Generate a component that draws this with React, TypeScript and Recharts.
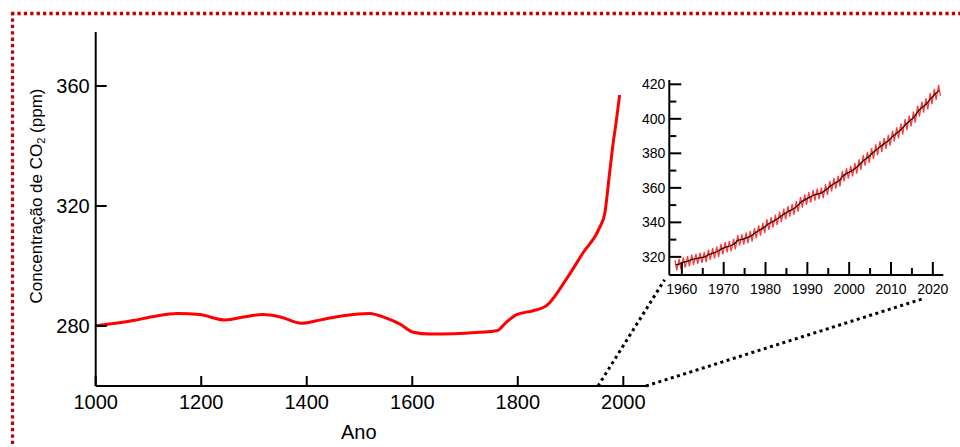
import React from 'react';
import { LineChart, Line, XAxis, YAxis, ReferenceLine } from 'recharts';

// Ice-core CO2 record (smoothed), year -> ppm
const iceYears = [1000, 1071, 1110, 1155, 1197, 1246, 1280, 1316, 1350, 1390, 1430, 1469, 1519, 1551, 1576, 1602, 1633, 1680, 1728, 1760, 1778, 1797, 1829, 1854, 1892, 1924, 1955, 1965, 1974, 1980, 1987, 1993];
const iceCO2 = [280.1, 281.8, 283.2, 284.2, 283.8, 282.0, 283.0, 283.8, 283.0, 280.9, 282.2, 283.4, 284.2, 282.6, 280.7, 277.9, 277.3, 277.4, 277.9, 278.4, 281.2, 283.7, 285.1, 286.7, 295.6, 304.5, 312.8, 317.7, 331.0, 339.9, 348.7, 357.0];

const mainXTicks = [1000, 1200, 1400, 1600, 1800, 2000];
const mainYTicks = [280, 320, 360];

// Mauna Loa record, 1958-2021
const mlYears = [1958, 1959, 1960, 1961, 1962, 1963, 1964, 1965, 1966, 1967, 1968, 1969, 1970, 1971, 1972, 1973, 1974, 1975, 1976, 1977, 1978, 1979, 1980, 1981, 1982, 1983, 1984, 1985, 1986, 1987, 1988, 1989, 1990, 1991, 1992, 1993, 1994, 1995, 1996, 1997, 1998, 1999, 2000, 2001, 2002, 2003, 2004, 2005, 2006, 2007, 2008, 2009, 2010, 2011, 2012, 2013, 2014, 2015, 2016, 2017, 2018, 2019, 2020, 2021];
const mlAnnual = [315.3, 316.0, 316.9, 317.6, 318.5, 319.0, 319.6, 320.0, 321.4, 322.2, 323.1, 324.6, 325.7, 326.3, 327.5, 329.7, 330.2, 331.1, 332.0, 333.8, 335.4, 336.8, 338.8, 340.1, 341.5, 343.2, 344.9, 346.4, 347.6, 349.3, 351.7, 353.2, 354.5, 355.7, 356.5, 357.2, 359.0, 361.0, 362.7, 363.9, 366.8, 368.5, 369.7, 371.3, 373.5, 376.0, 377.7, 380.0, 382.1, 384.0, 385.8, 387.6, 390.1, 391.9, 394.1, 396.7, 398.8, 401.0, 404.4, 406.8, 408.7, 411.7, 414.2, 416.5];
const mlMayPeak = [318.1, 318.8, 319.7, 320.4, 321.3, 321.8, 322.4, 322.8, 324.2, 325.0, 325.9, 327.5, 328.6, 329.2, 330.4, 332.6, 333.1, 334.0, 334.9, 336.7, 338.3, 339.7, 341.7, 343.1, 344.5, 346.2, 347.9, 349.4, 350.6, 352.3, 354.7, 356.2, 357.5, 358.7, 359.5, 360.2, 362.0, 364.0, 365.7, 366.9, 369.8, 371.5, 372.7, 374.3, 376.5, 379.0, 380.8, 383.1, 385.2, 387.1, 388.9, 390.7, 393.2, 395.0, 397.2, 399.8, 401.9, 404.2, 407.6, 410.0, 411.9, 414.9, 417.4, 419.7];
const mlOctTrough = [312.2, 312.9, 313.8, 314.5, 315.4, 315.9, 316.5, 316.9, 318.3, 319.1, 320.0, 321.5, 322.6, 323.2, 324.4, 326.6, 327.1, 328.0, 328.9, 330.7, 332.3, 333.7, 335.7, 337.0, 338.4, 340.1, 341.8, 343.3, 344.5, 346.2, 348.6, 350.1, 351.4, 352.6, 353.4, 354.1, 355.9, 357.9, 359.6, 360.8, 363.7, 365.4, 366.6, 368.2, 370.4, 372.9, 374.5, 376.8, 378.9, 380.8, 382.6, 384.4, 386.9, 388.7, 390.9, 393.5, 395.6, 397.8, 401.2, 403.6, 405.5, 408.5, 411.0, 413.3];

const insetXTicks = [1960, 1965, 1970, 1975, 1980, 1985, 1990, 1995, 2000, 2005, 2010, 2015, 2020];
const insetYTicks = [320, 330, 340, 350, 360, 370, 380, 390, 400, 410, 420];

const FONT = '"Liberation Sans", Arial, Helvetica, sans-serif';

const mainData = iceYears.map((y, i) => ({ year: y, co2: iceCO2[i] }));
const annualData = mlYears.map((y, i) => ({ year: y + 0.5, co2: mlAnnual[i] }));
const seasonalData = mlYears.flatMap((y, i) => [
  { year: y + 0.37, co2: mlMayPeak[i] },
  { year: y + 0.79, co2: mlOctTrough[i] },
]);

const MainXTick = (props: any) => {
  const { x, y, payload } = props;
  return (
    <g>
      <line x1={x} y1={y} x2={x} y2={y - 10} stroke="#000" strokeWidth={2} />
      <text x={x} y={y + 23} textAnchor="middle" fontSize={20} fontFamily={FONT} fill="#000">{payload.value}</text>
    </g>
  );
};

const MainYTick = (props: any) => {
  const { x, y, payload } = props;
  return (
    <g>
      <line x1={x} y1={y} x2={x + 11} y2={y} stroke="#000" strokeWidth={2} />
      <text x={x - 6} y={y} dy="0.36em" textAnchor="end" fontSize={20} fontFamily={FONT} fill="#000">{payload.value}</text>
    </g>
  );
};

const InsetXTick = (props: any) => {
  const { x, y, payload } = props;
  const major = payload.value % 10 === 0;
  return (
    <g>
      <line x1={x} y1={y} x2={x} y2={y - (major ? 13 : 7)} stroke="#000" strokeWidth={2} />
      {major && (
        <text x={x} y={y + 18.5} textAnchor="middle" fontSize={14} fontFamily={FONT} fill="#000">{payload.value}</text>
      )}
    </g>
  );
};

const InsetYTick = (props: any) => {
  const { x, y, payload } = props;
  const major = payload.value % 20 === 0;
  return (
    <g>
      <line x1={x} y1={y} x2={x + (major ? 12 : 7)} y2={y} stroke="#000" strokeWidth={2} />
      {major && (
        <text x={x - 4} y={y} dy="0.36em" textAnchor="end" fontSize={14} fontFamily={FONT} fill="#000">{payload.value}</text>
      )}
    </g>
  );
};

const YLabel = (props: any) => {
  const vb = props.viewBox || { x: 0, y: 32, width: 96, height: 354 };
  const cx = vb.x + 42;
  const cy = vb.y + vb.height / 2 - 13;
  return (
    <text x={cx} y={cy} transform={`rotate(-90, ${cx}, ${cy})`} textAnchor="middle" fontSize={17} fontFamily={FONT} fill="#000">
      Concentração de CO<tspan fontSize={11} dy={3}>2</tspan><tspan dy={-3}> (ppm)</tspan>
    </text>
  );
};

const XLabel = (props: any) => {
  const vb = props.viewBox || { x: 96, y: 386, width: 550, height: 61 };
  return (
    <text x={vb.x + vb.width * 0.478} y={vb.y + 53} textAnchor="middle" fontSize={20} fontFamily={FONT} fill="#000">Ano</text>
  );
};

export default function App() {
  return (
    <div style={{ position: 'absolute', left: 0, top: 0, width: 960, height: 447, overflow: 'hidden', background: '#fff' }}>
      <div style={{ position: 'absolute', left: 0, top: 0 }}>
        <LineChart width={960} height={447} data={mainData} margin={{ top: 32, right: 314, bottom: 0, left: 0 }}>
          <XAxis
            dataKey="year"
            type="number"
            domain={[1000, 2043]}
            ticks={mainXTicks}
            interval={0}
            height={61}
            tickSize={0}
            tickMargin={0}
            tickLine={false}
            tick={<MainXTick />}
            axisLine={{ stroke: '#000', strokeWidth: 2 }}
            label={<XLabel />}
          />
          <YAxis
            type="number"
            domain={[260, 378]}
            ticks={mainYTicks}
            interval={0}
            width={95.7}
            tickSize={0}
            tickMargin={0}
            tickLine={false}
            tick={<MainYTick />}
            axisLine={{ stroke: '#000', strokeWidth: 2 }}
            label={<YLabel />}
          />
          <ReferenceLine
            segment={[{ x: 1952, y: 260 }, { x: 2078.2, y: 295.4 }]}
            ifOverflow="visible"
            stroke="#000"
            strokeWidth={3}
            strokeDasharray="3 3.5"
          />
          <ReferenceLine
            segment={[{ x: 2043, y: 260 }, { x: 2570, y: 289.2 }]}
            ifOverflow="visible"
            stroke="#000"
            strokeWidth={3}
            strokeDasharray="3 3.5"
          />
          <Line type="monotone" dataKey="co2" stroke="#ff0000" strokeWidth={3} dot={false} isAnimationActive={false} />
        </LineChart>
      </div>
      <div style={{ position: 'absolute', left: 600, top: 60 }}>
        <LineChart width={360} height={260} margin={{ top: 20, right: 16.7, bottom: 0, left: 0 }}>
          <XAxis
            dataKey="year"
            type="number"
            domain={[1957, 2022.5]}
            ticks={insetXTicks}
            interval={0}
            height={45}
            tickSize={0}
            tickMargin={0}
            tickLine={false}
            tick={<InsetXTick />}
            axisLine={{ stroke: '#000', strokeWidth: 2 }}
            allowDataOverflow
          />
          <YAxis
            type="number"
            domain={[309.5, 422.5]}
            ticks={insetYTicks}
            interval={0}
            width={69.3}
            tickSize={0}
            tickMargin={0}
            tickLine={false}
            tick={<InsetYTick />}
            axisLine={{ stroke: '#000', strokeWidth: 2 }}
            allowDataOverflow
          />
          <Line data={seasonalData} type="linear" dataKey="co2" stroke="#ff3a3a" strokeWidth={1.3} dot={false} isAnimationActive={false} />
          <Line data={annualData} type="monotone" dataKey="co2" stroke="#111" strokeWidth={1.3} dot={false} isAnimationActive={false} />
        </LineChart>
      </div>
      <svg width={960} height={447} style={{ position: 'absolute', left: 0, top: 0, pointerEvents: 'none' }}>
        <line x1={11} y1={13.5} x2={960} y2={13.5} stroke="#c00000" strokeWidth={3.3} strokeDasharray="3.3 3.1" />
        <line x1={12.5} y1={12} x2={12.5} y2={447} stroke="#c00000" strokeWidth={3.3} strokeDasharray="3.3 3.1" />
      </svg>
    </div>
  );
}
